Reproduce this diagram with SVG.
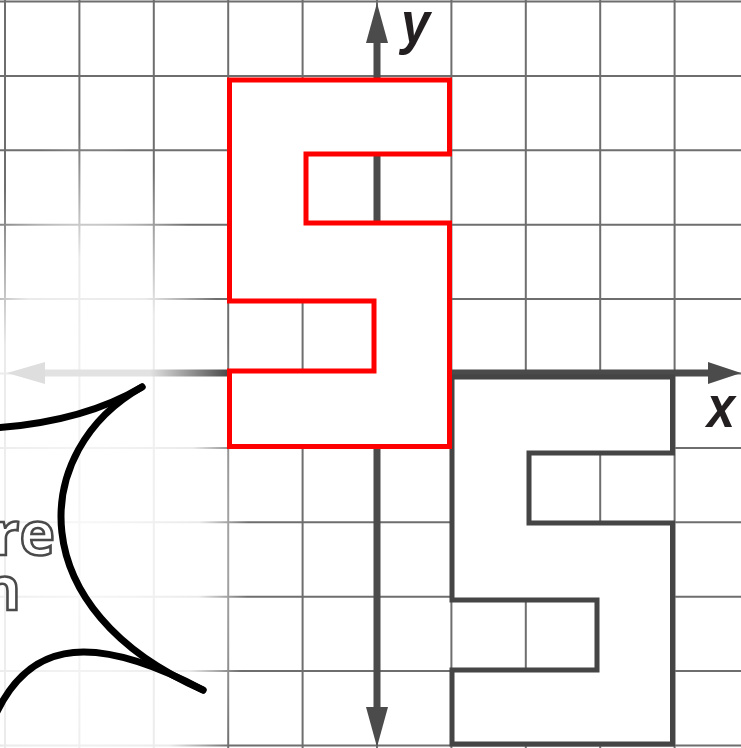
<svg xmlns="http://www.w3.org/2000/svg" width="741" height="748" viewBox="0 0 741 748">
  <style>
    .grid line { stroke: #6e6e6e; stroke-width: 2; }
    .axis { stroke: #4b4b4b; stroke-width: 7; fill: none; }
    .head { fill: #4b4b4b; }
    .lbl { font-family: "Liberation Sans", Arial, sans-serif; font-weight: 700; font-style: italic; font-size: 60px; fill: #231f20; }
    .burst { fill: none; stroke: #000; stroke-width: 7; stroke-linecap: round; }
    .out { font-family: "Open Sans", "DejaVu Sans", sans-serif; font-weight: 700; font-size: 60px; fill: #fff; stroke: #4a4a4a; stroke-width: 2.6; }
    .soft { filter: url(#soft); }
  </style>
  <defs>
    <radialGradient id="fade" cx="0.33" cy="0.7" r="0.62">
      <stop offset="0" stop-color="#fff" stop-opacity="0.95"/>
      <stop offset="0.7" stop-color="#fff" stop-opacity="0.86"/>
      <stop offset="1" stop-color="#fff" stop-opacity="0"/>
    </radialGradient>
    <linearGradient id="xfade" gradientUnits="userSpaceOnUse" x1="228" y1="0" x2="5" y2="0">
      <stop offset="0" stop-color="#4b4b4b"/>
      <stop offset="0.35" stop-color="#e2e2e2"/>
      <stop offset="1" stop-color="#e2e2e2"/>
    </linearGradient>
    <filter id="soft" x="-5%" y="-5%" width="110%" height="110%">
      <feGaussianBlur stdDeviation="0.7"/>
    </filter>
  </defs>
  <rect width="741" height="748" fill="#fff"/>
  <g id="grid" class="grid">
    <line x1="5" y1="0" x2="5" y2="748"/>
    <line x1="79.4" y1="0" x2="79.4" y2="748"/>
    <line x1="153.8" y1="0" x2="153.8" y2="748"/>
    <line x1="228.2" y1="0" x2="228.2" y2="748"/>
    <line x1="302.6" y1="0" x2="302.6" y2="748"/>
    <line x1="377" y1="0" x2="377" y2="748"/>
    <line x1="451.4" y1="0" x2="451.4" y2="748"/>
    <line x1="525.8" y1="0" x2="525.8" y2="748"/>
    <line x1="600.2" y1="0" x2="600.2" y2="748"/>
    <line x1="674.6" y1="0" x2="674.6" y2="748"/>
    <line x1="0" y1="1.5" x2="741" y2="1.5"/>
    <line x1="0" y1="75.9" x2="741" y2="75.9"/>
    <line x1="0" y1="150.3" x2="741" y2="150.3"/>
    <line x1="0" y1="224.7" x2="741" y2="224.7"/>
    <line x1="0" y1="299.1" x2="741" y2="299.1"/>
    <line x1="0" y1="373.5" x2="741" y2="373.5"/>
    <line x1="0" y1="447.9" x2="741" y2="447.9"/>
    <line x1="0" y1="522.3" x2="741" y2="522.3"/>
    <line x1="0" y1="596.7" x2="741" y2="596.7"/>
    <line x1="0" y1="671.1" x2="741" y2="671.1"/>
    <line x1="0" y1="745.5" x2="741" y2="745.5"/>
  </g>
  <rect id="fade-overlay" x="0" y="80" width="262" height="668" fill="url(#fade)"/>
  <g id="axes">
    <line class="axis" x1="377" y1="38" x2="377" y2="710"/>
    <polygon class="head" points="377,3 388,43 366,43"/>
    <polygon class="head" points="377,747 388,707 366,707"/>
    <line class="axis" x1="449" y1="373" x2="712" y2="373"/>
    <polygon class="head" points="741,373 708,362 708,384"/>
    <line x1="228" y1="373" x2="40" y2="373" stroke="url(#xfade)" stroke-width="7"/>
    <polygon points="7,373 45,362 45,384" fill="#dedede"/>
    <text class="lbl" x="401" y="43" textLength="29" lengthAdjust="spacingAndGlyphs">y</text>
    <text class="lbl" x="707" y="427" textLength="28" lengthAdjust="spacingAndGlyphs">x</text>
  </g>
  <g id="black-s">
    <polygon class="soft" points="452,377 672.5,377 672.5,453 529,453 529,523 672.5,523 672.5,744 452,744 452,670 597,670 597,600 452,600" fill="#fff" stroke="#444" stroke-width="5"/>
  </g>
  <g id="red-s">
    <polygon class="soft" points="229.5,80 449.5,80 449.5,154 306,154 306,223 449.5,223 449.5,446.5 229.5,446.5 229.5,371 374,371 374,301 229.5,301" fill="#fff" stroke="#ff0000" stroke-width="5"/>
  </g>
  <g id="burst">
    <path class="burst" d="M -5,428 C 50,424 100,412 142,387"/>
    <path class="burst" d="M 142,387 C 30,450 20,610 203,690"/>
    <path class="burst" d="M -5,716 C 25,650 80,625 203,690"/>
    <text class="out" x="55" y="555" text-anchor="end">re</text>
    <text class="out" x="21" y="610" text-anchor="end">n</text>
  </g>
</svg>
